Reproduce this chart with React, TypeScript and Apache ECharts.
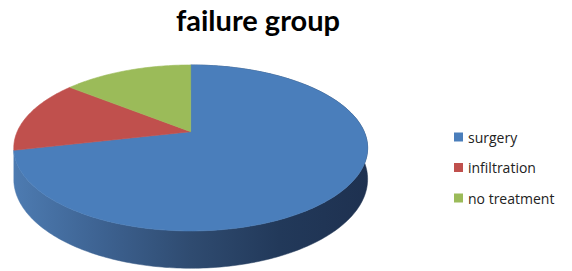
import React, { useEffect, useRef } from "react";
import * as echarts from "echarts";

const categories = ["surgery", "infiltration", "no treatment"];
const values = [5, 1, 1];
const topColors = ["#4a7ebb", "#c0504d", "#9bbb59"];

// perspective layout of the 3D pie (screen pixels)
const CX = 190.7;
const CY = 131.7;
const RA = 173.5;
const RB = 79.8;
const K = 0.196;
const DEPTH = 30;

function proj(theta: number, h: number): number[] {
  const u = Math.sin(theta);
  const v = Math.cos(theta);
  const s = 1 + K * v;
  return [CX + (RA * u) / s, CY + (-RB * v + h) / s];
}

export default function App() {
  const ref = useRef<HTMLDivElement>(null);
  useEffect(() => {
    if (!ref.current) return;
    const chart = echarts.init(ref.current, undefined, { renderer: "svg" });
    const total = values.reduce((a, b) => a + b, 0);

    const sideGradient = new echarts.graphic.LinearGradient(
      14,
      0,
      368,
      0,
      [
        { offset: 0, color: "#4d7bb1" },
        { offset: 0.25, color: "#3d6291" },
        { offset: 0.5, color: "#2f4b70" },
        { offset: 0.75, color: "#22395a" },
        { offset: 1, color: "#1e3150" },
      ],
      true
    );

    const renderItem = (params: any, api: any) => {
      const idx = params.seriesIndex;
      let before = 0;
      for (let i = 0; i < idx; i++) before += values[i];
      const v = api.value(0);
      const t1 = (before / total) * Math.PI * 2;
      const t2 = ((before + v) / total) * Math.PI * 2;
      const n = Math.max(2, Math.ceil(((t2 - t1) * 180) / Math.PI) + 1);
      const topArc: number[][] = [];
      const botArc: number[][] = [];
      for (let i = 0; i <= n; i++) {
        const t = t1 + ((t2 - t1) * i) / n;
        topArc.push(proj(t, 0));
        botArc.push(proj(t, DEPTH));
      }
      const topPts = [[CX, CY], ...topArc];
      const children: any[] = [];
      if (idx === 0) {
        const sidePts = [...topArc, ...botArc.reverse()];
        children.push({
          type: "polygon",
          z2: 0,
          shape: { points: sidePts },
          style: { fill: sideGradient, stroke: sideGradient, lineWidth: 0.5 },
        });
      }
      children.push({
        type: "polygon",
        z2: 10,
        shape: { points: topPts },
        style: { fill: topColors[idx], stroke: topColors[idx], lineWidth: 0.6 },
      });
      return { type: "group", children };
    };

    chart.setOption({
      animation: false,
      graphic: [
        {
          type: "text",
          x: 258,
          y: 5,
          style: {
            text: "failure group",
            align: "center",
            verticalAlign: "top",
            fill: "#000",
            font: 'bold 29px Lato, sans-serif',
          },
        },
      ],
      legend: {
        orient: "vertical",
        left: 449,
        top: 125,
        icon: "rect",
        itemWidth: 9,
        itemHeight: 9,
        itemGap: 16.5,
        selectedMode: false,
        data: categories,
        textStyle: { fontSize: 14, color: "#222", fontFamily: "Open Sans", padding: [0, 0, 0, 0] },
      },
      series: categories.map((name, i) => ({
        type: "custom",
        name,
        coordinateSystem: "none",
        silent: true,
        itemStyle: { color: topColors[i] },
        data: [[values[i]]],
        renderItem,
      })),
    });
    return () => chart.dispose();
  }, []);
  return (
    <div
      ref={ref}
      style={{ position: "fixed", left: 0, top: 0, width: 572, height: 271, background: "#fff" }}
    />
  );
}
